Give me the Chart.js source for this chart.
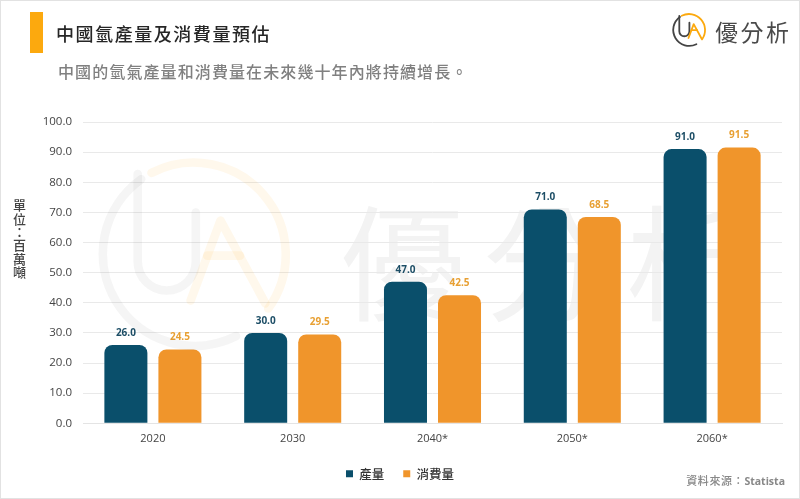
<!DOCTYPE html>
<html lang="zh-Hant">
<head>
<meta charset="utf-8">
<title>中國氫產量及消費量預估</title>
<script src="https://cdn.jsdelivr.net/npm/chart.js@4/dist/chart.umd.min.js"></script>
<style>
  html, body { margin:0; padding:0; background:#fff; }
  #page { position:relative; width:800px; height:499px; overflow:hidden; background:#fff; font-family:"Noto Sans CJK TC","Noto Sans",sans-serif; }
  #page canvas { position:absolute; left:0; top:0; }
  .frame { position:absolute; left:0; top:0; width:798px; height:497px; border:1px solid #e2e2e2; pointer-events:none; }
  .bar { position:absolute; left:30px; top:12px; width:13px; height:41px; background:#fca90e; }
  .title { position:absolute; left:56px; top:20px; font-size:18px; line-height:27px; font-weight:500; letter-spacing:1.55px; color:#262626; white-space:nowrap; }
  .sub { position:absolute; left:58px; top:59px; font-size:16px; line-height:24px; font-weight:500; letter-spacing:1.1px; color:#808080; white-space:nowrap; }
  .brand { position:absolute; left:715px; top:14px; font-size:23px; line-height:34px; letter-spacing:2.5px; color:#4a4a4a; white-space:nowrap; }
  .unit { position:absolute; left:11px; top:199px; writing-mode:vertical-rl; text-orientation:upright; font-size:13px; line-height:16px; font-weight:500; letter-spacing:.3px; color:#444; white-space:nowrap; }
  .source { position:absolute; right:15px; top:472px; font-size:11px; line-height:17px; font-weight:500; letter-spacing:.65px; color:#888; white-space:nowrap; }
  .source b { font-family:"Open Sans","Noto Sans",sans-serif; font-size:10.5px; font-weight:700; letter-spacing:0; }
  .mark { position:absolute; pointer-events:none; }
  .wm-text { position:absolute; left:340px; top:162px; font-size:125px; line-height:190px; letter-spacing:18px; color:#f3f3f3; white-space:nowrap; pointer-events:none; }
</style>
</head>
<body>
<div id="page">
  <div class="wm-text">優分析</div>
  <canvas id="chart" width="800" height="499"></canvas>

  <svg style="display:none">
    <symbol id="ua" viewBox="0 0 36 36">
      <g fill="none" stroke="var(--gray)" stroke-opacity="var(--oa)" stroke-width="var(--sw)" stroke-linecap="round" stroke-linejoin="round">
        <path d="M8.9 4.9 A16 16 0 0 0 25.4 32.2"/>
        <path d="M8.3 4 V19.2 a5.05 5.05 0 0 0 10.1 0 V10.7"/>
      </g>
      <g fill="none" stroke="#fca90e" stroke-opacity="var(--ob)" stroke-width="var(--sw)" stroke-linecap="round" stroke-linejoin="round">
        <path d="M10.7 3.8 A16 16 0 0 1 31 27.4"/>
        <path d="M17.5 26 L22.7 12.1 L30.5 26.5"/>
        <path d="M20.4 18.2 H26.1"/>
      </g>
    </symbol>
  </svg>
  <svg class="mark" style="left:89.5px;top:150.5px;--gray:#444;--oa:.055;--ob:.08;--sw:1.5" width="207" height="207"><use href="#ua"/></svg>

  <div class="frame"></div>
  <div class="bar"></div>
  <div class="title">中國氫產量及消費量預估</div>
  <div class="sub">中國的氫氣產量和消費量在未來幾十年內將持續增長。</div>
  <svg class="mark" style="left:670.5px;top:12px;--gray:#444;--oa:1;--ob:1;--sw:1.8" width="36" height="36"><use href="#ua"/></svg>
  <div class="brand">優分析</div>
  <div class="unit">單位：百萬噸</div>
  <div class="source">資料來源：<b>Statista</b></div>
</div>

<script>
const years = ['2020', '2030', '2040*', '2050*', '2060*'];
const production = [26.0, 30.0, 47.0, 71.0, 91.0];
const consumption = [24.5, 29.5, 42.5, 68.5, 91.5];
const yTicks = [0, 10, 20, 30, 40, 50, 60, 70, 80, 90, 100];

const TICK_FONT = '"Open Sans","Noto Sans",sans-serif';
const CJK_FONT = '"Noto Sans CJK TC","Noto Sans",sans-serif';

// value labels above each bar
const valueLabels = {
  id: 'valueLabels',
  afterDatasetsDraw(chart) {
    const ctx = chart.ctx;
    chart.data.datasets.forEach((ds, i) => {
      chart.getDatasetMeta(i).data.forEach((bar, j) => {
        ctx.save();
        ctx.font = 'bold 10px ' + TICK_FONT;
        ctx.fillStyle = ds.labelColor;
        ctx.textAlign = 'center';
        ctx.textBaseline = 'middle';
        ctx.fillText(ds.data[j].toFixed(1), bar.x, bar.y - 12);
        ctx.restore();
      });
    });
  }
};

new Chart(document.getElementById('chart').getContext('2d'), {
  type: 'bar',
  data: {
    labels: years,
    datasets: [
      { label: '產量', data: production, backgroundColor: '#0a4f6b', labelColor: '#1d4e66' },
      { label: '消費量', data: consumption, backgroundColor: '#f0952b', labelColor: '#e8a033' }
    ]
  },
  options: {
    responsive: false,
    animation: false,
    devicePixelRatio: 1,
    layout: { padding: { left: 18, right: 18, top: 122, bottom: 9 } },
    datasets: { bar: { categoryPercentage: 0.773, barPercentage: 0.796, borderRadius: { topLeft: 8, topRight: 8 } } },
    plugins: {
      tooltip: { enabled: false },
      legend: {
        position: 'bottom',
        labels: {
          boxWidth: 7, boxHeight: 7, padding: 19,
          color: '#333',
          font: { family: CJK_FONT, size: 12.5, weight: '500' }
        }
      }
    },
    scales: {
      x: {
        grid: { display: false },
        border: { color: '#e4e4e4' },
        ticks: { color: '#444', padding: 1, font: { family: TICK_FONT, size: 11 } },
        afterFit(scale) { scale.height += 2; }
      },
      y: {
        min: 0, max: 100,
        afterBuildTicks(scale) { scale.ticks = yTicks.map(value => ({ value })); },
        grid: { color: '#e9e9e9', drawTicks: false },
        border: { display: false },
        ticks: {
          color: '#444', padding: 11,
          font: { family: TICK_FONT, size: 11.5 },
          callback: v => v.toFixed(1)
        },
        afterFit(scale) { scale.width = 65; }
      }
    }
  },
  plugins: [valueLabels]
});
</script>
</body>
</html>
